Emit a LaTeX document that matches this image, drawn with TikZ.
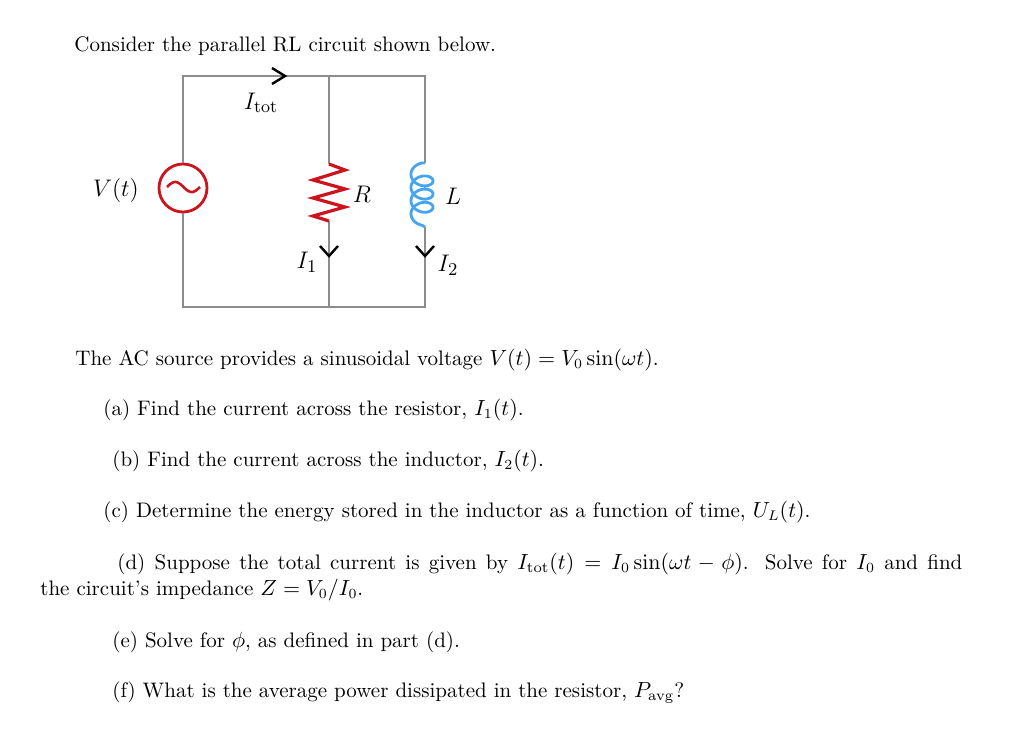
\documentclass[tikz,border=0pt]{standalone}
\usepackage{amsmath}
\usepackage{amssymb}
\definecolor{srcred}{RGB}{205,20,30}
\definecolor{coilblue}{RGB}{70,165,240}
\definecolor{wiregray}{RGB}{140,140,140}
\begin{document}
\begin{tikzpicture}[x=0.5pt,y=-0.5pt,
  wire/.style={draw=wiregray, line width=0.8pt},
  chev/.style={draw=black, line width=1.2pt},
  txt/.style={anchor=base west, inner sep=0pt, font=\fontsize{10.5}{12.6}\selectfont},
  lbl/.style={inner sep=0pt, font=\fontsize{12.5}{15}\selectfont}]
\useasboundingbox (0,0) rectangle (1016,740);
\fill[white] (0,0) rectangle (1016,740);
\coordinate (tl) at (183,76);
\coordinate (tm) at (329,76);
\coordinate (tr) at (425,76);
\coordinate (bl) at (183,307);
\coordinate (bm) at (329,307);
\coordinate (br) at (425,307);
\coordinate (rtop) at (329,164);
\coordinate (rbot) at (329,221);
\coordinate (ltop) at (425,163);
\coordinate (lbot) at (425,227);
\node[circle, draw=srcred, line width=1.4pt, minimum size=24pt, inner sep=0pt] (vsrc) at (183,188) {};
\draw[wire] (vsrc.north) -- (tl) -- (tm) -- (tr) -- (ltop);
\draw[wire] (vsrc.south) -- (bl) -- (bm) -- (br) -- (lbot);
\draw[wire] (tm) -- (rtop);
\draw[wire] (rbot) -- (bm);
\draw[srcred, line width=1.3pt] plot[domain=0:360, samples=40, smooth] ({167+33*\x/360}, {187-5*sin(\x)});
\draw[srcred, line width=1.6pt, line join=miter] (rtop) -- (345,170) -- (313,180) -- (345,189) -- (313,198) -- (345,207) -- (313,216) -- (rbot);
\draw[coilblue, line width=1.4pt] (ltop) -- plot[domain=0:1260, samples=180, smooth] ({422-11*sin(\x)}, {171+2.1*\x*pi/180-8*cos(\x)}) -- (lbot);
\draw[chev] (272,68) -- (285,76) -- (272,84);
\draw[chev] (320,246) -- (329,256) -- (338,246);
\draw[chev] (416,246) -- (425,256) -- (434,246);
\node[lbl] (vlab) at (116,190) {$V(t)$};
\node[lbl] (itotlab) at (261,103) {$I_{\text{tot}}$};
\node[lbl] (rlab) at (362,194) {$R$};
\node[lbl] (llab) at (453,196) {$L$};
\node[lbl] (ionelab) at (307,262) {$I_1$};
\node[lbl] (itwolab) at (448,265) {$I_2$};
\node[txt] (intro) at (74,51) {Consider the parallel RL circuit shown below.};
\node[txt] (source) at (75,365) {The AC source provides a sinusoidal voltage $V(t)=V_0\sin(\omega t)$.};
\node[txt] (parta) at (103,415) {(a) Find the current across the resistor, $I_1(t)$.};
\node[txt] (partb) at (112,466) {(b) Find the current across the inductor, $I_2(t)$.};
\node[txt] (partc) at (103,517) {(c) Determine the energy stored in the inductor as a function of time, $U_L(t)$.};
\node[txt] (partd) at (117,569) {\hbox to 422.5pt{(d) Suppose the total current is given by $I_{\text{tot}}(t) = I_0\sin(\omega t-\phi)$. Solve for $I_0$ and find}};
\node[txt] (partdd) at (40,595) {the circuit's impedance $Z=V_0/I_0$.};
\node[txt] (parte) at (112,647) {(e) Solve for $\phi$, as defined in part (d).};
\node[txt] (partf) at (112,697) {(f) What is the average power dissipated in the resistor, $P_{\text{avg}}$?};
\end{tikzpicture}
\end{document}
